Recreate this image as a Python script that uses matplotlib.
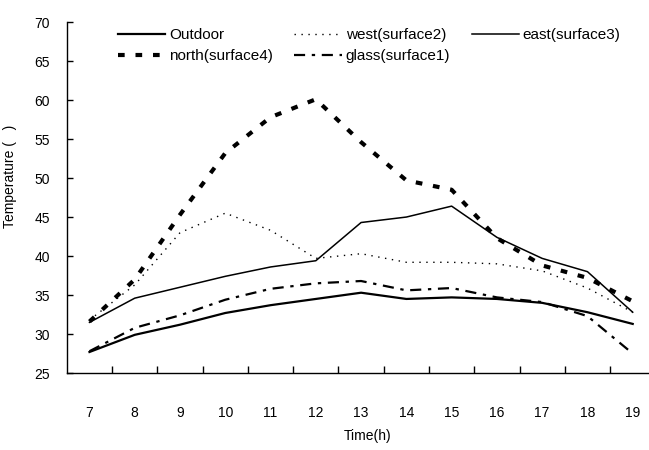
import numpy as np
import matplotlib
matplotlib.use("Agg")
import matplotlib.pyplot as plt

plt.rcParams['font.family'] = ['Liberation Sans', 'DejaVu Sans']

hours = list(range(7, 20))
outdoor = [27.7, 29.9, 31.2, 32.7, 33.7, 34.5, 35.3, 34.5, 34.7, 34.5, 34.0, 32.8, 31.3]
west = [31.8, 36.3, 43.0, 45.5, 43.3, 39.7, 40.3, 39.2, 39.2, 39.0, 38.1, 35.9, 32.8]
east = [31.5, 34.6, 36.0, 37.4, 38.6, 39.4, 44.3, 45.0, 46.4, 42.4, 39.7, 38.0, 32.8]
north = [31.6, 37.0, 45.3, 53.2, 57.8, 60.1, 54.6, 49.7, 48.5, 42.3, 38.8, 37.2, 34.2]
glass = [27.8, 30.8, 32.4, 34.4, 35.8, 36.5, 36.8, 35.6, 35.9, 34.7, 34.1, 32.3, 27.5]

fig = plt.figure(figsize=(6.49, 4.5), dpi=100)
ax = fig.add_axes([0.103, 0.171, 0.897, 0.78])

l_out, = ax.plot(hours, outdoor, color='black', lw=1.6, label='Outdoor')
l_west, = ax.plot(hours, west, color='black', lw=1.0, linestyle=(0, (1, 4)), label='west(surface2)')
l_east, = ax.plot(hours, east, color='black', lw=1.1, label='east(surface3)')
l_north, = ax.plot(hours, north, color='black', lw=3.0, linestyle=(0, (1.6, 2.6)), label='north(surface4)')
l_glass, = ax.plot(hours, glass, color='black', lw=1.6, linestyle=(0, (5, 3, 1.5, 3)), label='glass(surface1)')

ax.set_xlim(6.5, 19.36)
ax.set_ylim(25, 70)
ax.set_yticks(np.arange(25, 71, 5))
ax.set_xticks(hours)
ax.set_xticks(np.arange(7.5, 19, 1), minor=True)
ax.tick_params(axis='x', which='major', length=0, pad=24, labelsize=10)
ax.tick_params(axis='x', which='minor', direction='in', length=5, width=1)
ax.tick_params(axis='y', direction='in', length=4, width=1, pad=12, labelsize=10)

for s in ['top', 'right']:
    ax.spines[s].set_visible(False)
ax.spines['left'].set_linewidth(1.0)
ax.spines['bottom'].set_linewidth(1.0)

ax.set_xlabel('Time(h)', fontsize=10)
ax.xaxis.set_label_coords(0.517, -0.16)
ax.set_ylabel('Temperature (   )', fontsize=10)
ax.yaxis.set_label_coords(-0.085, 0.56)

# column-major fill -> order so rows read Outdoor/west/east, north/glass
handles = [l_out, l_north, l_west, l_glass, l_east]
ax.legend(handles=handles, labels=[h.get_label() for h in handles],
          ncol=3, loc='upper left', bbox_to_anchor=(118 / 649, 1 - 28 / 450),
          bbox_transform=fig.transFigure, frameon=False, fontsize=11,
          handlelength=3.1, handletextpad=0.25, columnspacing=1.4,
          labelspacing=0.45, borderpad=0, borderaxespad=0)

fig.savefig('out.png', dpi=100)
